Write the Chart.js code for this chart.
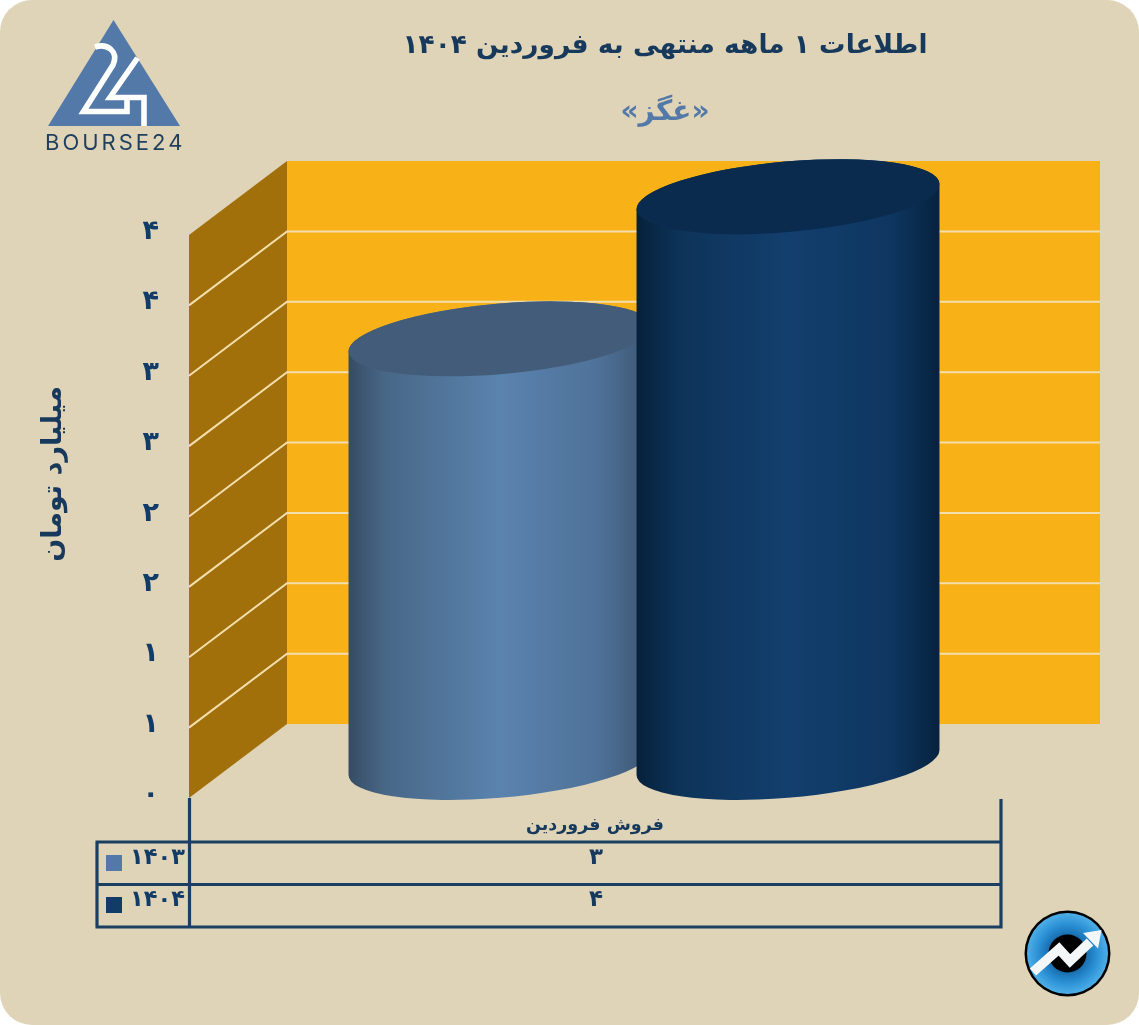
<!DOCTYPE html>
<html lang="fa">
<head>
<meta charset="utf-8">
<title>اطلاعات ۱ ماهه منتهی به فروردین ۱۴۰۴</title>
<script src="https://cdn.jsdelivr.net/npm/chart.js@4"></script>
<style>
html,body{margin:0;padding:0;background:#fff;}
#card{position:relative;width:1139px;height:1025px;background:#DFD4B8;border-radius:32px;overflow:hidden;}
canvas{position:absolute;left:0;top:0;}
</style>
</head>
<body>
<div id="card"><canvas id="c" width="1139" height="1025"></canvas></div>
<script>
const categories = ['فروش فروردین'];
const seriesNames = ['۱۴۰۳', '۱۴۰۴'];
const values1403 = [3.01];
const values1404 = [4.02];
const tableRow1403 = ['۳'];
const tableRow1404 = ['۴'];
const yTickLabels = ['۰', '۱', '۱', '۲', '۲', '۳', '۳', '۴', '۴'];
const titleText = 'اطلاعات ۱ ماهه منتهی به فروردین ۱۴۰۴';
const subtitleText = '«غگز»';
const yAxisTitle = 'میلیارد تومان';

const FONT = '"DejaVu Sans"';
const NAVY = '#17395B', BLUE = '#5279A8', DARK = '#123C68';
const DEPTH_X = 98, DEPTH_Y = 74;
const CYL_DX = 49, CYL_DY = 35.5, CYL_RY = 35.2, CYL_ROT = -5 * Math.PI / 180;

const looks = [
  { stops: [[0,'#364B63'],[0.12,'#486787'],[0.5,'#5A83AE'],[0.82,'#4F7299'],[1,'#3C5470']], top: '#435C79' },
  { stops: [[0,'#06203A'],[0.14,'#0D3358'],[0.5,'#133F6E'],[0.84,'#0E3660'],[1,'#07223E']], top: '#0B2B4E' }
];

function drawCylinder(ctx, bar, look, baseY) {
  const a = bar.width / 2, b = CYL_RY, r = CYL_ROT;
  const cx = bar.x + CYL_DX, cyT = bar.y - CYL_DY, cyB = baseY - CYL_DY;
  const t0 = Math.atan2(-b * Math.sin(r), a * Math.cos(r));
  const g = ctx.createLinearGradient(cx - a, 0, cx + a, 0);
  look.stops.forEach(s => g.addColorStop(s[0], s[1]));
  ctx.beginPath();
  ctx.ellipse(cx, cyB, a, b, r, t0, t0 + Math.PI, false);
  ctx.ellipse(cx, cyT, a, b, r, t0 + Math.PI, t0 + 2 * Math.PI, false);
  ctx.closePath();
  ctx.fillStyle = g;
  ctx.fill();
  ctx.beginPath();
  ctx.ellipse(cx, cyT, a, b, r, 0, 2 * Math.PI);
  ctx.fillStyle = look.top;
  ctx.fill();
}

function text(ctx, s, x, y, font, color, rtl) {
  ctx.font = font;
  ctx.fillStyle = color;
  ctx.textAlign = 'center';
  ctx.textBaseline = 'middle';
  ctx.direction = rtl === false ? 'ltr' : 'rtl';
  ctx.fillText(s, x, y);
}

const scene = {
  id: 'scene',
  beforeDatasetsDraw(chart) {
    const { ctx, chartArea: ca, scales: { y } } = chart;
    const L = ca.left, R = 1100, bx = L + DEPTH_X;
    const top = y.getPixelForValue(y.max), bot = y.getPixelForValue(0);
    ctx.save();
    ctx.fillStyle = '#F9B118';
    ctx.fillRect(bx, top - DEPTH_Y, R - bx, bot - top);
    ctx.fillStyle = '#A1700A';
    ctx.beginPath();
    ctx.moveTo(L, top); ctx.lineTo(bx, top - DEPTH_Y);
    ctx.lineTo(bx, bot - DEPTH_Y); ctx.lineTo(L, bot);
    ctx.closePath(); ctx.fill();
    ctx.strokeStyle = '#F3DFAE';
    ctx.lineWidth = 2;
    y.ticks.forEach(t => {
      if (t.value === 0 || t.value === y.max) return;
      const p = y.getPixelForValue(t.value);
      ctx.beginPath();
      ctx.moveTo(L, p); ctx.lineTo(bx, p - DEPTH_Y); ctx.lineTo(R, p - DEPTH_Y);
      ctx.stroke();
    });
    ctx.restore();
  },
  beforeDatasetDraw() { return false; },
  afterDatasetsDraw(chart) {
    const { ctx, scales: { y } } = chart;
    const base = y.getPixelForValue(0);
    ctx.save();
    chart.data.datasets.forEach((d, i) => {
      chart.getDatasetMeta(i).data.forEach(bar => drawCylinder(ctx, bar, looks[i], base));
    });
    ctx.restore();
  },
  afterDraw(chart) {
    const { ctx, chartArea: ca, scales: { x } } = chart;
    ctx.save();
    // heading and axis title
    text(ctx, titleText, 665, 46, 'bold 26.4px ' + FONT, NAVY);
    text(ctx, subtitleText, 665, 113, 'bold 28px ' + FONT, BLUE);
    ctx.save();
    ctx.translate(54, 474);
    ctx.rotate(-Math.PI / 2);
    text(ctx, yAxisTitle, 0, 0, 'bold 27px ' + FONT, NAVY);
    ctx.restore();

    // data table under the plot
    const L = ca.left, R = ca.right, T0 = 842, T1 = 884.5, T2 = 927, K = 97;
    ctx.strokeStyle = '#1A3F60';
    ctx.lineWidth = 3.2;
    ctx.lineCap = 'butt';
    ctx.beginPath();
    ctx.moveTo(L + 0.5, ca.bottom); ctx.lineTo(L + 0.5, T2);
    ctx.moveTo(R, ca.bottom + 1); ctx.lineTo(R, T2 + 1.5);
    [T0, T1, T2].forEach(t => { ctx.moveTo(K - 1.5, t); ctx.lineTo(R + 1.5, t); });
    ctx.moveTo(K, T0); ctx.lineTo(K, T2);
    ctx.stroke();

    const cx = x.getPixelForValue(0) + 1;
    const rows = [[tableRow1403, 857, 855, BLUE], [tableRow1404, 899, 897, DARK]];
    rows.forEach((row, i) => {
      ctx.fillStyle = row[3];
      ctx.fillRect(106, row[2], 16, 16);
      text(ctx, seriesNames[i], 157.5, row[1] + 1, 'bold 22.5px ' + FONT, DARK, false);
      text(ctx, row[0][0], cx, row[1] + 1, 'bold 23px ' + FONT, NAVY);
    });

    // Bourse24 logo
    ctx.fillStyle = BLUE;
    ctx.beginPath();
    ctx.moveTo(113.5, 20); ctx.lineTo(180, 126); ctx.lineTo(48, 126); ctx.closePath(); ctx.fill();
    ctx.strokeStyle = '#fff';
    ctx.lineWidth = 5.6;
    ctx.lineJoin = 'miter';
    ctx.beginPath();
    ctx.moveTo(95, 47);
    ctx.bezierCurveTo(107, 43, 119, 51, 113, 65);
    ctx.lineTo(83.5, 111.5); ctx.lineTo(127, 111.5); ctx.lineTo(127, 100);
    ctx.stroke();
    ctx.beginPath();
    ctx.moveTo(137.5, 58); ctx.lineTo(110, 97.5); ctx.lineTo(144, 97.5); ctx.lineTo(144, 126);
    ctx.stroke();
    ctx.save();
    ctx.letterSpacing = '3px';
    ctx.font = '400 22px Inter';
    ctx.fillStyle = '#1F3F5E';
    ctx.textAlign = 'left';
    ctx.textBaseline = 'middle';
    ctx.direction = 'ltr';
    ctx.fillText('BOURSE24', 45, 143);
    ctx.restore();

    // round badge
    const ix = 1067.5, iy = 953.5;
    ctx.fillStyle = '#000';
    ctx.beginPath(); ctx.arc(ix, iy, 43, 0, 2 * Math.PI); ctx.fill();
    const rg = ctx.createRadialGradient(ix, iy, 14, ix, iy, 41);
    rg.addColorStop(0, '#0E5E9C'); rg.addColorStop(0.55, '#2A8FD4'); rg.addColorStop(1, '#4FB0E8');
    ctx.fillStyle = rg;
    ctx.beginPath(); ctx.arc(ix, iy, 40.5, 0, 2 * Math.PI); ctx.fill();
    ctx.fillStyle = '#000';
    ctx.beginPath(); ctx.arc(ix, iy, 19, 0, 2 * Math.PI); ctx.fill();
    ctx.strokeStyle = '#F4F7F8';
    ctx.lineWidth = 9.5;
    ctx.lineJoin = 'miter';
    ctx.beginPath();
    ctx.moveTo(1033, 972); ctx.lineTo(1059, 949); ctx.lineTo(1070, 961); ctx.lineTo(1090, 942);
    ctx.stroke();
    ctx.fillStyle = '#F4F7F8';
    ctx.beginPath();
    ctx.moveTo(1101.5, 930); ctx.lineTo(1083, 933); ctx.lineTo(1098, 948.5); ctx.closePath(); ctx.fill();
    ctx.restore();
  }
};

new Chart(document.getElementById('c'), {
  type: 'bar',
  data: {
    labels: categories,
    datasets: [
      { label: seriesNames[0], data: values1403, backgroundColor: BLUE },
      { label: seriesNames[1], data: values1404, backgroundColor: DARK }
    ]
  },
  options: {
    responsive: false,
    animation: false,
    layout: { padding: { left: 0, top: 235, right: 138, bottom: 167 } },
    categoryPercentage: 0.7094,
    barPercentage: 1.0556,
    plugins: { legend: { display: false }, title: { display: false }, tooltip: { enabled: false } },
    scales: {
      x: {
        afterFit: s => { s.height = 60; },
        grid: { display: false },
        border: { display: false },
        ticks: { color: NAVY, padding: 9, maxRotation: 0, font: { family: 'DejaVu Sans', size: 17.5, weight: 'bold' } }
      },
      y: {
        min: 0, max: 4,
        afterFit: s => { s.width = 189; },
        grid: { display: false, drawTicks: false },
        border: { display: false },
        ticks: {
          stepSize: 0.5, padding: 30, labelOffset: -3, color: DARK,
          font: { family: 'DejaVu Sans', size: 27, weight: 'bold' },
          callback: (v, i) => yTickLabels[i]
        }
      }
    }
  },
  plugins: [scene]
});
</script>
</body>
</html>
